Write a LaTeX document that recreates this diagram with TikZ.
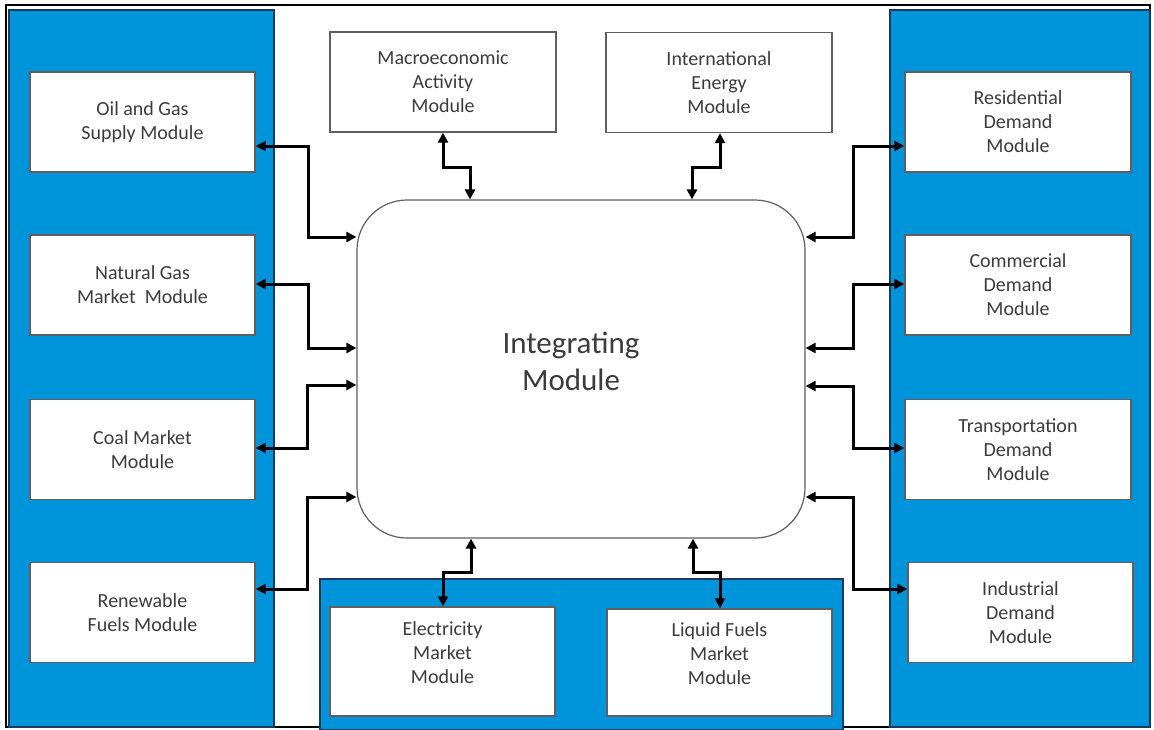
\documentclass[tikz,border=0pt]{standalone}
\usepackage{fontspec}
\setmainfont{Carlito}
\usetikzlibrary{arrows.meta,calc}
\definecolor{panelblue}{RGB}{0,149,218}
\definecolor{paneledge}{RGB}{28,58,92}
\definecolor{boxedge}{RGB}{95,95,95}
\definecolor{txt}{RGB}{60,60,60}
\begin{document}
\begin{tikzpicture}[x=0.5pt,y=-0.5pt,
  panel/.style={fill=panelblue,draw=paneledge,line width=1.2pt},
  mod/.style={draw=boxedge,fill=white,line width=0.7pt,text=txt,align=center,
    font=\fontsize{10}{12}\selectfont,minimum width=112.5pt,minimum height=50pt,inner sep=0pt},
  hub/.style={draw=boxedge,fill=white,line width=0.6pt,rounded corners=25pt,
    minimum width=224pt,minimum height=169pt,inner sep=0pt},
  hubtext/.style={text=txt,align=center,font=\fontsize{15.5}{18.5}\selectfont},
  arr/.style={line width=1.5pt,{Triangle[length=5pt,width=5pt]}-{Triangle[length=5pt,width=5pt]}}
]
\useasboundingbox (0,0) rectangle (1154,729);
\draw[black,line width=0.6pt] (6,5) rectangle (1150,727);
% panels
\draw[panel] (9,10) rectangle (274,727);
\draw[panel] (890,10) rectangle (1150,727);
\draw[panel] (320,579) rectangle (843,730);
% central module
\node[hub] (integ) at (581,369) {};
\node[hubtext] (integtext) at (571,361) {Integrating\\Module};
% left modules
\node[mod] (oil) at (142.5,122) {Oil and Gas\\Supply Module};
\node[mod] (gas) at (142.5,285) {Natural Gas\\Market\ \ Module};
\node[mod] (coal) at (142.5,449.5) {Coal Market\\Module};
\node[mod] (ren) at (142.5,612.5) {Renewable\\Fuels Module};
% right modules
\node[mod,minimum width=113pt] (res) at (1018,122) {Residential\\Demand\\Module};
\node[mod,minimum width=113pt] (com) at (1018,285) {Commercial\\Demand\\Module};
\node[mod,minimum width=113pt] (trans) at (1018,449.5) {Transportation\\Demand\\Module};
\node[mod] (ind) at (1020.5,612.5) {Industrial\\Demand\\Module};
% top modules
\node[mod,minimum width=113pt] (macro) at (443,82) {Macroeconomic\\Activity\\Module};
\node[mod,minimum width=113pt] (intl) at (719,82.5) {International\\Energy\\Module};
% bottom modules
\node[mod,minimum height=54.5pt] (elec) at (442.5,661.5) {Electricity\\Market\\Module\\[-3pt]\mbox{}};
\node[mod,minimum height=53.5pt] (liq) at (719.5,662.5) {Liquid Fuels\\Market\\Module\\[-3pt]\mbox{}};
% left connectors
\draw[arr] (oil.east |- 0,146) -| (308,237) -- (integ.west |- 0,237);
\draw[arr] (gas.east |- 0,284) -| (308,348) -- (integ.west |- 0,348);
\draw[arr] (coal.east |- 0,448) -| (307,385) -- (integ.west |- 0,385);
\draw[arr] (ren.east |- 0,589) -| (307,497) -- (integ.west |- 0,497);
% right connectors
\draw[arr] (res.west |- 0,146) -| (853,237) -- (integ.east |- 0,237);
\draw[arr] (com.west |- 0,284) -| (853,348) -- (integ.east |- 0,348);
\draw[arr] (trans.west |- 0,448) -| (853,386) -- (integ.east |- 0,386);
\draw[arr] (ind.west |- 0,589) -| (853,497) -- (integ.east |- 0,497);
% top connectors
\draw[arr] (macro.south -| 443,0) |- (470,167) -- (integ.north -| 470,0);
\draw[arr] (intl.south -| 720,0) |- (692,167) -- (integ.north -| 692,0);
% bottom connectors
\draw[arr] (elec.north -| 443,0) |- (471,572) -- (integ.south -| 471,0);
\draw[arr] (liq.north -| 720,0) |- (693,572) -- (integ.south -| 693,0);
\end{tikzpicture}
\end{document}
